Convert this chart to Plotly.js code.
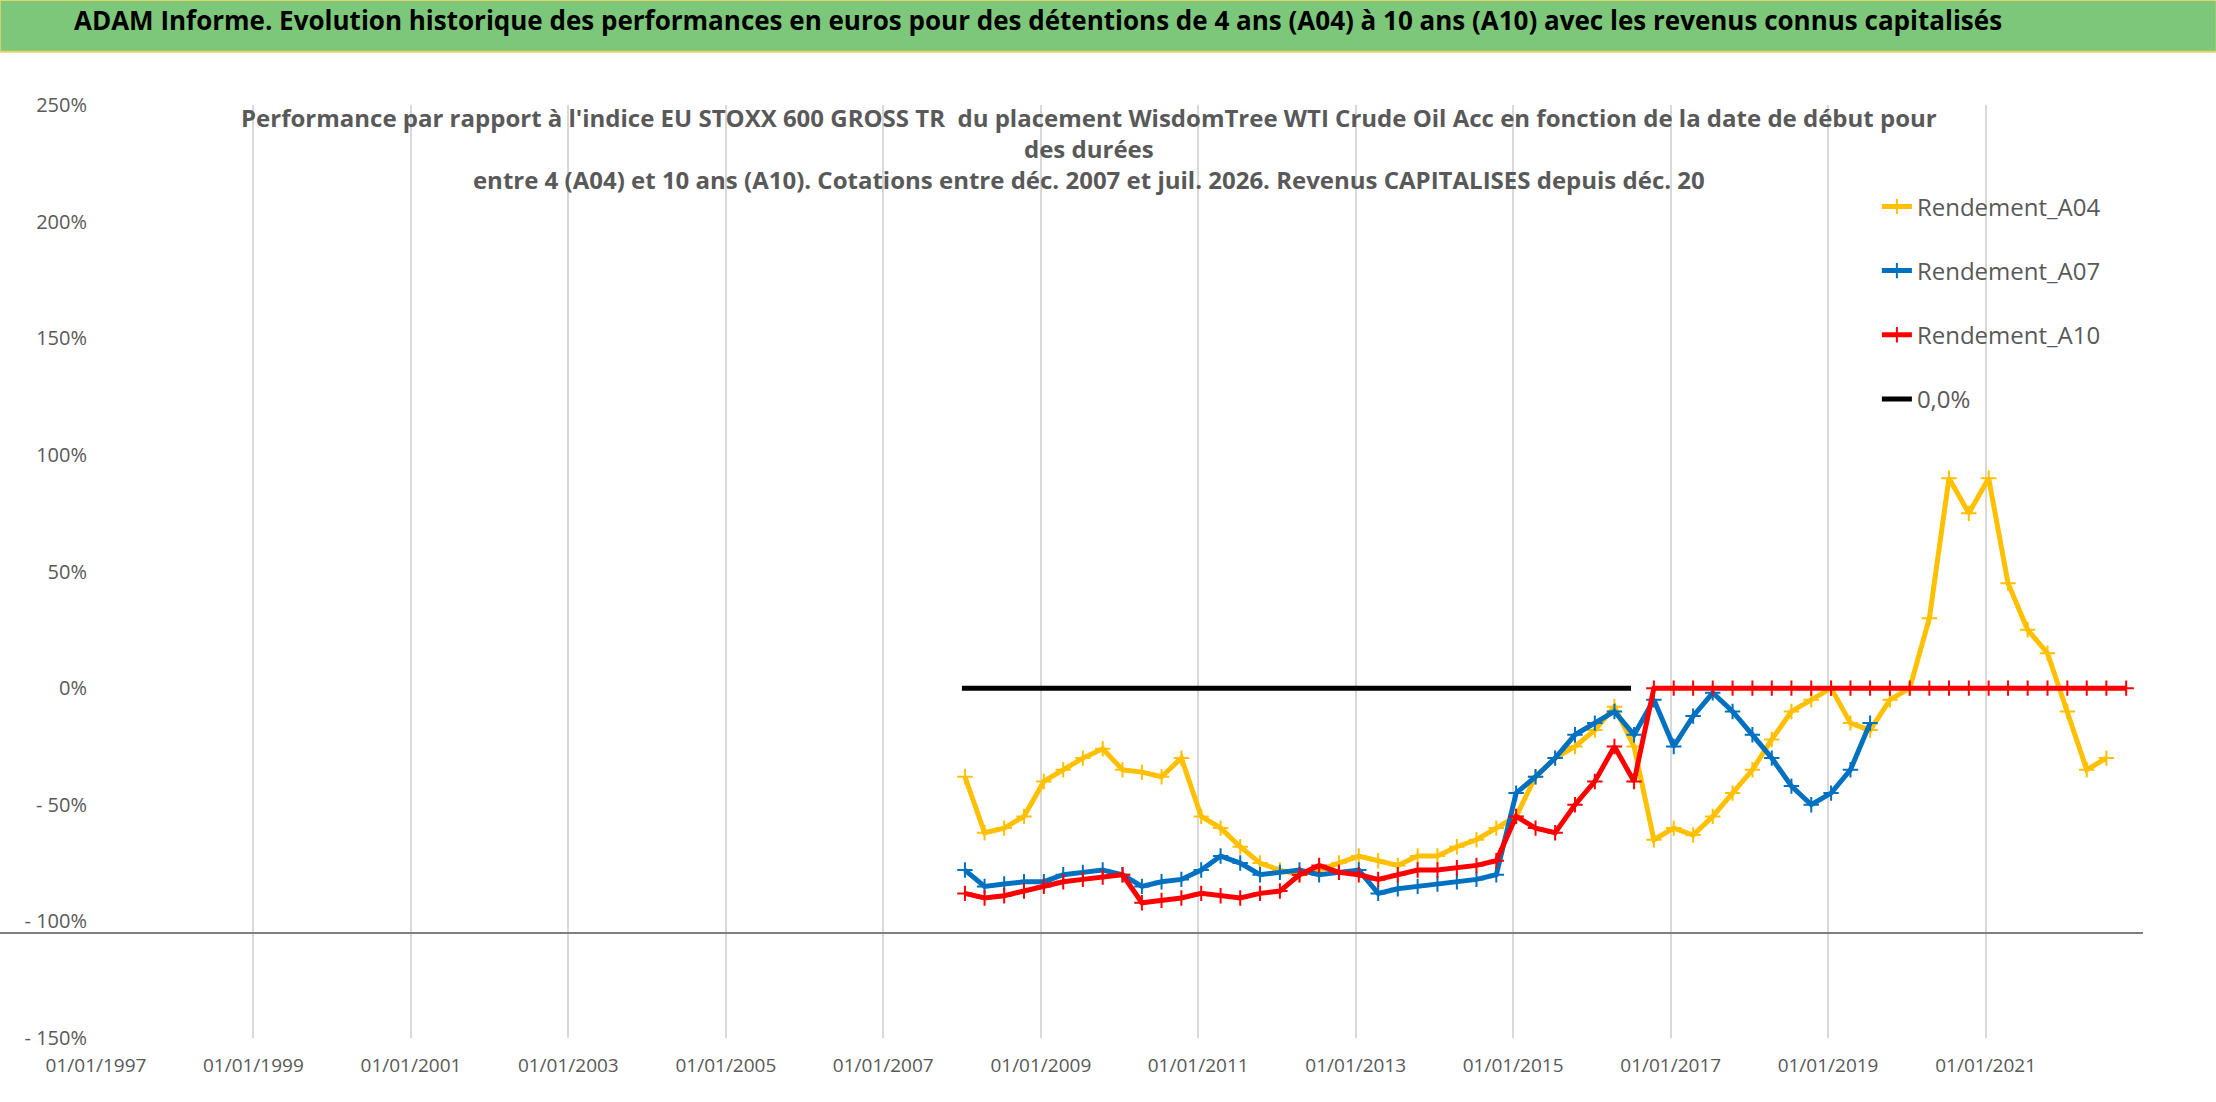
<!DOCTYPE html>
<html>
<head>
<meta charset="utf-8">
<script src="https://cdn.plot.ly/plotly-3.0.1.min.js"></script>
<style>body{margin:0;background:#fff}#chart{width:2216px;height:1102px}</style>
</head>
<body>
<div id="chart"></div>
<script>
// quarterly readings, first value = Q1 2008
const startYear = 2008;
const rendementA04 = [
	-38,-62,-60,-55, -40,-35,-30,-26, -35,-36,-38,-30, -55,-60,-68,-75,
	-78,-80,-78,-75, -72,-74,-76,-72, -72,-68,-65,-60, -55,-38,-30,-25,
	-18,-8,-25,-65, -60,-63,-55,-45, -35,-22,-10,-5, 0,-15,-18,-5,
	0,30,90,75, 90,45,25,15, -10,-35,-30
];
const rendementA07 = [
	-78,-85,-84,-83, -83,-80,-79,-78, -80,-85,-83,-82, -78,-72,-75,-80,
	-79,-78,-80,-79, -78,-88,-86,-85, -84,-83,-82,-80, -45,-38,-30,-20,
	-15,-10,-20,-5, -25,-12,-2,-10, -20,-30,-42,-50, -45,-35,-15
];
const rendementA10 = [
	-88,-90,-89,-87, -85,-83,-82,-81, -80,-92,-91,-90, -88,-89,-90,-88,
	-87,-80,-76,-79, -80,-82,-80,-78, -78,-77,-76,-74, -55,-60,-62,-50,
	-40,-25,-40,
	0, 0,0,0,0, 0,0,0,0, 0,0,0,0, 0,0,0,0, 0,0,0,0, 0,0,0,0
];
const zeroLineX = ["2008-01-01", "2016-07-01"];
const zeroLineY = [0, 0];
const yTickVals = [250, 200, 150, 100, 50, 0, -50, -100, -150];
const yTickText = ["250%", "200%", "150%", "100%", "50%", "0%", "- 50%", "- 100%", "- 150%"];
const xTickVals = [];
const xTickText = [];
for(let y = 1997; y <= 2021; y += 2){
	xTickVals.push(y + "-01-01");
	xTickText.push("01/01/" + y);
}

function quarterDates(n){
	let out = [];
	for(let i = 0; i < n; i++){
		let y = startYear + Math.floor(i / 4);
		let m = (i % 4) * 3 + 1;
		out.push(y + "-" + String(m).padStart(2, "0") + "-15");
	}
	return out;
}

const font = "Open Sans, sans-serif";

function serie(name, vals, color){
	return {
		x: quarterDates(vals.length), y: vals, name: name, legendgroup: name,
		type: 'scatter', mode: 'lines+markers',
		line: {color: color, width: 5},
		marker: {symbol: 'cross-thin-open', size: 11, color: color, line: {color: color, width: 2}}
	};
}

let traces = [
	serie("Rendement_A04", rendementA04, "#ffc000"),
	serie("Rendement_A07", rendementA07, "#0070c0"),
	serie("Rendement_A10", rendementA10, "#ff0000"),
	{x: zeroLineX, y: zeroLineY, name: "0,0%", legendgroup: "zero", type: 'scatter', mode: 'lines', line: {color: "#000", width: 5}}
];

let layout = {
	width: 2216, height: 1102,
	margin: {l: 96, r: 73, t: 105, b: 64},
	paper_bgcolor: "#fff", plot_bgcolor: "#fff",
	font: {family: font, color: "#595959", size: 20},
	showlegend: true,
	legend: {x: 0.87, y: 0.915, xanchor: 'left', yanchor: 'top', font: {size: 24, color: "#595959"}, bgcolor: "rgba(0,0,0,0)", tracegroupgap: 30},
	xaxis: {
		type: 'date', range: ["1997-01-01", "2023-01-01"],
		tickvals: xTickVals, ticktext: xTickText,
		showgrid: true, gridcolor: "#d9d9d9", gridwidth: 2,
		zeroline: false, showline: false, tickfont: {size: 19, color: "#595959"},
		ticklabelstandoff: 14
	},
	yaxis: {
		range: [-150, 250], tickvals: yTickVals, ticktext: yTickText,
		showgrid: false, zeroline: false, showline: false,
		tickfont: {size: 20, color: "#595959"}, ticks: "", ticklen: 0, ticklabelstandoff: 8
	},
	shapes: [
		{type: 'rect', xref: 'paper', yref: 'paper', x0: -0.047, x1: 1.036, y0: 1.057, y1: 1.1126,
			fillcolor: "#7dc77a", line: {color: "#e6d36a", width: 2}, layer: 'below'},
		{type: 'line', xref: 'paper', yref: 'y', x0: -0.047, x1: 1.0, y0: -105, y1: -105,
			line: {color: "#7f7f7f", width: 2}}
	],
	annotations: [
		{xref: 'paper', yref: 'paper', x: 0.46, y: 1.085, yanchor: 'middle', yshift: 6, showarrow: false,
			text: "<b>ADAM Informe. Evolution historique des performances en euros pour des détentions de 4 ans (A04) à 10 ans (A10) avec les revenus connus capitalisés</b>",
			font: {size: 26, color: "#000", family: font}},
		{xref: 'paper', yref: 'paper', x: 0.485, y: 0.9, yanchor: 'bottom', showarrow: false, align: 'center',
			text: "<b>Performance par rapport à l'indice EU STOXX 600 GROSS TR  du placement WisdomTree WTI Crude Oil Acc en fonction de la date de début pour<br>des durées<br>entre 4 (A04) et 10 ans (A10). Cotations entre déc. 2007 et juil. 2026. Revenus CAPITALISES depuis déc. 20</b>",
			font: {size: 24, color: "#595959", family: font}}
	]
};

Plotly.newPlot('chart', traces, layout, {displayModeBar: false});
</script>
</body>
</html>
